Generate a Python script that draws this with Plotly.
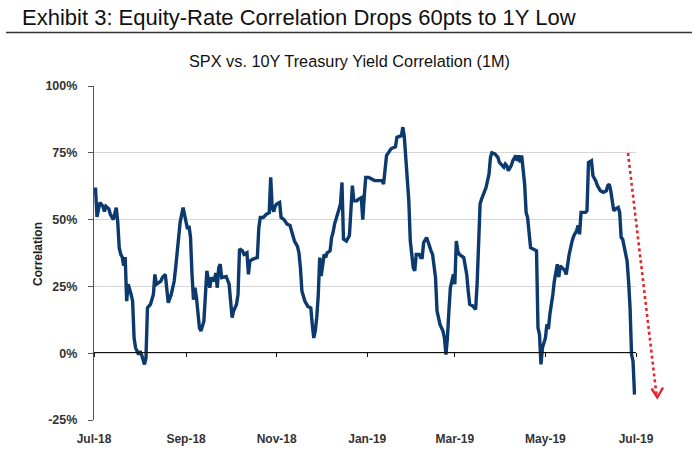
import plotly.graph_objects as go

# ---------------- data ----------------
dates = [
    "2018-07-02", "2018-07-03", "2018-07-05", "2018-07-07", "2018-07-08", "2018-07-09",
    "2018-07-11", "2018-07-12", "2018-07-14", "2018-07-16", "2018-07-17", "2018-07-18",
    "2018-07-19", "2018-07-20", "2018-07-21", "2018-07-22", "2018-07-23", "2018-07-24",
    "2018-07-26", "2018-07-27", "2018-07-28", "2018-07-29", "2018-07-31", "2018-08-01",
    "2018-08-02", "2018-08-04", "2018-08-05", "2018-08-06", "2018-08-08", "2018-08-10",
    "2018-08-11", "2018-08-12", "2018-08-15", "2018-08-16", "2018-08-18", "2018-08-19",
    "2018-08-20", "2018-08-22", "2018-08-24", "2018-08-25", "2018-08-27", "2018-08-28",
    "2018-08-30", "2018-09-01", "2018-09-02", "2018-09-03", "2018-09-04", "2018-09-05",
    "2018-09-06", "2018-09-07", "2018-09-08", "2018-09-10", "2018-09-11", "2018-09-13",
    "2018-09-14", "2018-09-15", "2018-09-17", "2018-09-18", "2018-09-20", "2018-09-21",
    "2018-09-22", "2018-09-23", "2018-09-24", "2018-09-25", "2018-09-28", "2018-09-30",
    "2018-10-01", "2018-10-02", "2018-10-03", "2018-10-05", "2018-10-06", "2018-10-07",
    "2018-10-09", "2018-10-10", "2018-10-12", "2018-10-13", "2018-10-14", "2018-10-16",
    "2018-10-19", "2018-10-20", "2018-10-21", "2018-10-23", "2018-10-25", "2018-10-27",
    "2018-10-28", "2018-10-29", "2018-10-30", "2018-10-31", "2018-11-01", "2018-11-03",
    "2018-11-04", "2018-11-06", "2018-11-08", "2018-11-10", "2018-11-11", "2018-11-13",
    "2018-11-15", "2018-11-16", "2018-11-17", "2018-11-18", "2018-11-19", "2018-11-20",
    "2018-11-22", "2018-11-24", "2018-11-25", "2018-11-26", "2018-11-27", "2018-11-28",
    "2018-11-29", "2018-11-30", "2018-12-01", "2018-12-03", "2018-12-04", "2018-12-05",
    "2018-12-07", "2018-12-08", "2018-12-09", "2018-12-10", "2018-12-13", "2018-12-14",
    "2018-12-15", "2018-12-16", "2018-12-18", "2018-12-19", "2018-12-20", "2018-12-22",
    "2018-12-23", "2018-12-25", "2018-12-26", "2018-12-28", "2018-12-29", "2018-12-30",
    "2018-12-31", "2019-01-02", "2019-01-04", "2019-01-06", "2019-01-11", "2019-01-12",
    "2019-01-14", "2019-01-15", "2019-01-17", "2019-01-20", "2019-01-21", "2019-01-24",
    "2019-01-25", "2019-01-26", "2019-01-27", "2019-01-29", "2019-01-30", "2019-01-31",
    "2019-02-01", "2019-02-02", "2019-02-03", "2019-02-05", "2019-02-06", "2019-02-07",
    "2019-02-08", "2019-02-10", "2019-02-11", "2019-02-12", "2019-02-13", "2019-02-14",
    "2019-02-16", "2019-02-17", "2019-02-18", "2019-02-19", "2019-02-21", "2019-02-22",
    "2019-02-23", "2019-02-24", "2019-02-25", "2019-02-26", "2019-02-27", "2019-02-28",
    "2019-03-01", "2019-03-02", "2019-03-03", "2019-03-04", "2019-03-07", "2019-03-09",
    "2019-03-10", "2019-03-11", "2019-03-13", "2019-03-15", "2019-03-16", "2019-03-17",
    "2019-03-18", "2019-03-19", "2019-03-21", "2019-03-22", "2019-03-24", "2019-03-25",
    "2019-03-26", "2019-03-28", "2019-03-30", "2019-03-31", "2019-04-03", "2019-04-04",
    "2019-04-05", "2019-04-06", "2019-04-08", "2019-04-09", "2019-04-11", "2019-04-12",
    "2019-04-13", "2019-04-14", "2019-04-15", "2019-04-16", "2019-04-17", "2019-04-18",
    "2019-04-19", "2019-04-21", "2019-04-23", "2019-04-25", "2019-04-26", "2019-04-27",
    "2019-04-28", "2019-04-29", "2019-05-01", "2019-05-02", "2019-05-03", "2019-05-04",
    "2019-05-06", "2019-05-07", "2019-05-09", "2019-05-10", "2019-05-11", "2019-05-13",
    "2019-05-14", "2019-05-15", "2019-05-17", "2019-05-19", "2019-05-20", "2019-05-22",
    "2019-05-23", "2019-05-24", "2019-05-25", "2019-05-28", "2019-05-29", "2019-05-30",
    "2019-06-01", "2019-06-02", "2019-06-04", "2019-06-05", "2019-06-07", "2019-06-09",
    "2019-06-11", "2019-06-12", "2019-06-13", "2019-06-14", "2019-06-16", "2019-06-17",
    "2019-06-19", "2019-06-20", "2019-06-21", "2019-06-22", "2019-06-23", "2019-06-25",
    "2019-06-26", "2019-06-27", "2019-06-28", "2019-06-29", "2019-06-30",
]

correlation = [
    62, 51, 56.4, 55, 53, 55,
    54, 52, 50, 54.5, 49, 39.5,
    37, 36, 32.7, 36, 19.5, 25.8,
    22, 19.5, 5.7, 2, -0.5, 0.75,
    -0.5, -4.2, -1.8, 17, 18.3, 22,
    29.5, 25.8, 27, 28.3, 29.5, 24.5,
    18.9, 22, 27, 32, 44.5, 49,
    54.5, 49.5, 46.4, 47.6, 43.3, 29.5,
    20, 24.5, 20.8, 9.5, 8.3, 12,
    19.5, 30.8, 24.5, 28.3, 27, 30,
    24.5, 32, 33.3, 28.3, 28.7, 25.8,
    19.5, 13.3, 15.8, 18.3, 22, 39,
    38.3, 37, 37.6, 29.5, 34.5, 35.2,
    35.8, 47, 50.8, 50.8, 52, 52.6,
    65.8, 54.5, 53, 55, 55.8, 56.4,
    50.8, 50, 48.3, 47.8, 45.8, 42,
    40, 37.6, 32, 23.3, 21.4, 19.5,
    17.5, 17, 10.8, 5.7, 8.3, 13.3,
    21.4, 35.8, 28.9, 37, 35.8, 37.6,
    38.3, 43.3, 45.2, 48.3, 53.9, 55.8,
    63.9, 42.7, 42, 43.3, 44, 62.7,
    57, 57, 57.6, 58.2, 50, 58.8,
    65.8, 65.8, 65.2, 64.6, 64.6, 63.3,
    74, 75, 76.5, 77.2, 80.8, 81.4,
    84.6, 80.8, 72, 57, 42, 37,
    32, 30.8, 37, 37, 35.8, 35.8,
    41.4, 43.3, 41.4, 40, 38.3, 37,
    28.3, 15.8, 13.3, 10.8, 8.3, 5.7,
    -0.5, 5.7, 15.8, 24.5, 27, 29.5,
    25.8, 42, 38.3, 37, 35.8, 29.5,
    23.3, 18.3, 17.7, 16.4, 25.8, 42,
    55.8, 57.7, 60.8, 62, 67, 73.3,
    75, 74.6, 73.3, 71.4, 69.6, 70.8,
    70.2, 68.3, 70.2, 72, 74, 72,
    74, 71.4, 74, 68.3, 63.3, 52.7,
    50.8, 39.5, 39, 38.3, 9.5, 7,
    -4.2, 2, 5.7, 10.8, 9, 14.5,
    22, 27, 33.3, 28.5, 32.7, 31.5,
    31, 29.5, 37, 42, 43.8, 45.8,
    47.8, 44.5, 52.7, 52.7, 53.3, 71.4,
    72, 66.4, 64.4, 62.7, 60.8, 60.2,
    60.8, 62.7, 63.3, 60.8, 53.3, 53.9,
    54.5, 52.7, 43.3, 42.7, 40.2, 34.5,
    27, 17, -0.5, -3, -15.5,
]

x_tick_dates = ["2018-07-01", "2018-09-01", "2018-11-01", "2019-01-01",
                "2019-03-01", "2019-05-01", "2019-07-01"]
x_tick_labels = ["Jul-18", "Sep-18", "Nov-18", "Jan-19", "Mar-19", "May-19", "Jul-19"]
y_tick_vals = [-25, 0, 25, 50, 75, 100]
y_tick_labels = ["-25%", "0%", "25%", "50%", "75%", "100%"]

title_text = "Exhibit 3: Equity-Rate Correlation Drops 60pts to 1Y Low"
subtitle_text = "SPX vs. 10Y Treasury Yield Correlation (1M)"
y_title_text = "Correlation"

# ---------------- layout geometry (pixels) ----------------
W, H = 700, 450
L, R, T, B = 94, 64, 86, 30
PW, PH = W - L - R, H - T - B


def px(xp):
    return (xp - L) / PW


def py(yp):
    return (H - B - yp) / PH


FONT = "Liberation Sans, Arial, sans-serif"
LINE_COLOR = "#0c3a6e"
RED = "#e3262b"

fig = go.Figure()
fig.add_trace(go.Scatter(
    x=dates, y=correlation, mode="lines",
    line=dict(color=LINE_COLOR, width=3.4),
    showlegend=False, hoverinfo="skip",
))
# invisible trace on the overlay axis that carries the zero line with its ticks
fig.add_trace(go.Scatter(
    x=[x_tick_dates[0]], y=[None], xaxis="x2", mode="lines",
    showlegend=False, hoverinfo="skip",
))

fig.update_layout(
    width=W, height=H,
    margin=dict(l=L, r=R, t=T, b=B, autoexpand=False),
    paper_bgcolor="white", plot_bgcolor="white",
    font=dict(family=FONT, color="#222"),
    xaxis=dict(
        type="date", range=[x_tick_dates[0], x_tick_dates[-1]], automargin=False,
        tickmode="array", tickvals=x_tick_dates, ticktext=x_tick_labels,
        showgrid=False, zeroline=False, showline=False, ticks="",
        tickfont=dict(size=12, family=FONT, color="#333", weight="bold"),
        ticklabelstandoff=10,
    ),
    xaxis2=dict(
        type="date", range=[x_tick_dates[0], x_tick_dates[-1]], automargin=False,
        overlaying="x", anchor="free", position=py(352.0),
        tickmode="array", tickvals=x_tick_dates,
        showticklabels=False, showgrid=False, zeroline=False,
        showline=True, linecolor="#111", linewidth=1.2,
        ticks="outside", ticklen=4, tickcolor="#111", tickwidth=1,
    ),
    yaxis=dict(
        range=[-25, 100], automargin=False,
        tickmode="array", tickvals=y_tick_vals, ticktext=y_tick_labels,
        showgrid=True, gridcolor="#d6d6d6", gridwidth=1, zeroline=False,
        showline=True, linecolor="#555", linewidth=1.2,
        ticks="outside", ticklen=5, tickcolor="#555",
        tickfont=dict(size=12.5, family=FONT, color="#333", weight="bold"),
        ticklabelstandoff=8,
    ),
    annotations=[
        dict(text=title_text, xref="paper", yref="paper", x=px(20), y=py(17.5),
             xanchor="left", yanchor="middle", showarrow=False,
             font=dict(size=22, family=FONT, color="#111")),
        dict(text=subtitle_text, xref="paper", yref="paper", x=px(349), y=py(61.5),
             xanchor="center", yanchor="middle", showarrow=False,
             font=dict(size=16.3, family=FONT, color="#111")),
        dict(text=y_title_text, xref="paper", yref="paper", x=px(38), y=py(254),
             xanchor="center", yanchor="middle", showarrow=False, textangle=-90,
             font=dict(size=12, family=FONT, color="#222", weight="bold")),
    ],
    shapes=[
        # rule under the exhibit title
        dict(type="line", xref="paper", yref="paper",
             x0=px(6), x1=px(692), y0=py(32.5), y1=py(32.5),
             line=dict(color="#333", width=1.5)),
        # red dotted arrow shaft
        dict(type="line", xref="paper", yref="paper",
             x0=px(628), y0=py(153), x1=px(656.5), y1=py(395),
             line=dict(color=RED, width=2.6, dash="dot")),
        # arrow head (open chevron)
        dict(type="path", xref="paper", yref="paper",
             path=(f"M {px(651.5)} {py(388.5)} L {px(657.3)} {py(397.5)} "
                   f"L {px(663)} {py(387.5)}"),
             line=dict(color=RED, width=2.4)),
    ],
)

fig.write_html("out.html", config={"displayModeBar": False},
               post_script="document.body.style.margin='0';")
